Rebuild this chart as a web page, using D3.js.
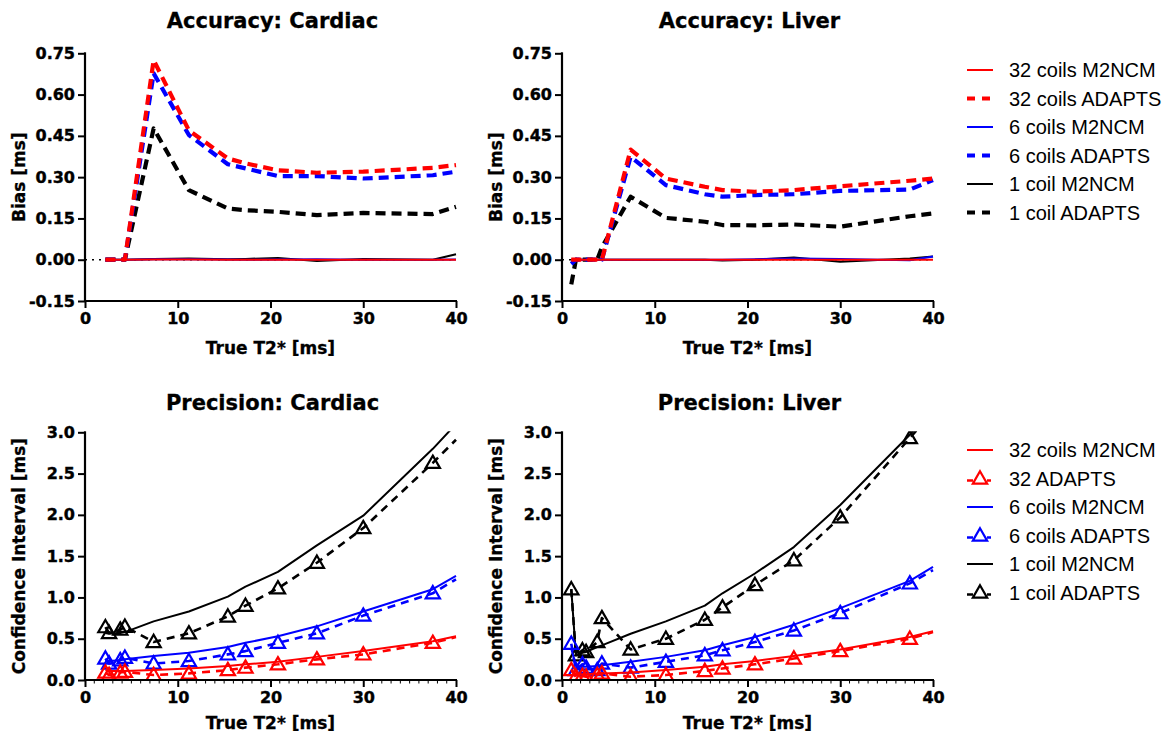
<!DOCTYPE html>
<html>
<head>
<meta charset="utf-8">
<script src="https://cdn.jsdelivr.net/npm/d3@7"></script>
<style>
  body { margin: 0; background: #fff; }
  svg { display: block; }
  .tick-label { font-family: "DejaVu Sans", sans-serif; font-weight: bold; font-size: 16px; stroke: #000; stroke-width: 0.4px; }
  .axis-title { font-family: "DejaVu Sans", sans-serif; font-weight: bold; font-size: 17px; stroke: #000; stroke-width: 0.3px; }
  .panel-title { font-family: "DejaVu Sans", sans-serif; font-weight: bold; font-size: 21px; stroke: #000; stroke-width: 0.3px; }
  .legend-text { font-family: "Liberation Sans", Arial, sans-serif; font-size: 20px; }
</style>
</head>
<body>
<svg id="chart" width="1162" height="735"></svg>
<script>
// T2* sample points
const xCardiac = [2.2, 2.6, 3.8, 4.3, 7.4, 11.2, 15.4, 17.3, 20.8, 25, 30, 37.5, 40];
const xLiver = [1.0, 1.5, 2.2, 2.6, 3.8, 4.3, 7.4, 11.2, 15.4, 17.3, 20.8, 25, 30, 37.5, 40];

// Bias, cardiac
const biasCardiac32M = [0, 0, 0, 0, 0.001, 0.001, 0, 0, 0, 0, 0, 0, 0];
const biasCardiac32A = [0, 0, 0, 0, 0.725, 0.47, 0.368, 0.35, 0.325, 0.316, 0.32, 0.334, 0.344];
const biasCardiac6M = [0, 0, 0, 0, 0.002, 0.002, 0.001, 0, 0.001, 0.002, 0, 0, 0.001];
const biasCardiac6A = [0, 0, 0, 0, 0.677, 0.453, 0.347, 0.332, 0.304, 0.304, 0.295, 0.307, 0.32];
const biasCardiac1M = [-0.003, 0, 0, 0, 0.003, 0.004, 0.002, 0.003, 0.006, -0.005, 0.003, 0, 0.02];
const biasCardiac1A = [0, 0, 0, 0, 0.477, 0.253, 0.186, 0.18, 0.174, 0.162, 0.17, 0.166, 0.192];

// Bias, liver
const biasLiver32M = [0, 0, 0, 0, 0, 0, 0, 0, 0, 0, 0, 0, 0, 0, 0];
const biasLiver32A = [0, 0, 0, 0, 0, 0, 0.40, 0.295, 0.265, 0.253, 0.247, 0.253, 0.267, 0.287, 0.295];
const biasLiver6M = [-0.015, 0, 0, 0, 0, 0, 0, 0, 0, 0, 0.002, 0.004, 0.003, -0.002, 0.012];
const biasLiver6A = [-0.015, 0, 0, 0, 0, 0, 0.374, 0.271, 0.238, 0.229, 0.235, 0.238, 0.25, 0.255, 0.289];
const biasLiver1M = [0, 0, 0, 0, 0, 0, 0, 0, 0, -0.003, 0, 0.008, -0.007, 0.004, 0.012];
const biasLiver1A = [-0.09, 0, 0, 0, 0, 0.045, 0.229, 0.152, 0.138, 0.126, 0.125, 0.128, 0.12, 0.158, 0.168];

// Confidence interval, cardiac
const ciCardiac32M = [0.12, 0.11, 0.11, 0.11, 0.12, 0.14, 0.17, 0.19, 0.22, 0.28, 0.35, 0.47, 0.53];
const ciCardiac32A = [0.09, 0.06, 0.09, 0.1, 0.06, 0.08, 0.12, 0.15, 0.19, 0.25, 0.31, 0.45, 0.52];
const ciCardiac6M = [0.24, 0.23, 0.24, 0.25, 0.29, 0.33, 0.40, 0.45, 0.53, 0.65, 0.83, 1.1, 1.26];
const ciCardiac6A = [0.26, 0.2, 0.24, 0.27, 0.2, 0.23, 0.31, 0.35, 0.45, 0.565, 0.78, 1.05, 1.22];
const ciCardiac1M = [0.57, 0.56, 0.57, 0.58, 0.71, 0.83, 1.01, 1.13, 1.31, 1.63, 1.99, 2.8, 3.1];
const ciCardiac1A = [0.64, 0.57, 0.61, 0.645, 0.46, 0.565, 0.77, 0.9, 1.11, 1.42, 1.84, 2.63, 2.91];

// Confidence interval, liver
const ciLiver32M = [0.13, 0.07, 0.07, 0.07, 0.08, 0.08, 0.09, 0.12, 0.16, 0.19, 0.23, 0.29, 0.37, 0.52, 0.59];
const ciLiver32A = [0.12, 0.04, 0.05, 0.04, 0.06, 0.08, 0.04, 0.06, 0.11, 0.14, 0.19, 0.26, 0.35, 0.5, 0.58];
const ciLiver6M = [0.38, 0.17, 0.16, 0.16, 0.17, 0.18, 0.22, 0.28, 0.36, 0.42, 0.52, 0.67, 0.87, 1.2, 1.37];
const ciLiver6A = [0.44, 0.12, 0.19, 0.15, 0.12, 0.2, 0.15, 0.22, 0.30, 0.36, 0.46, 0.60, 0.81, 1.17, 1.33];
const ciLiver1M = [1.1, 0.3, 0.33, 0.34, 0.4, 0.42, 0.56, 0.71, 0.90, 1.05, 1.29, 1.61, 2.12, 2.97, 3.3];
const ciLiver1A = [1.1, 0.3, 0.36, 0.34, 0.46, 0.75, 0.37, 0.50, 0.73, 0.88, 1.15, 1.45, 1.97, 2.93, 3.25];

// Ticks and labels
const xTicks = [0, 10, 20, 30, 40];
const biasTicks = [-0.15, 0, 0.15, 0.30, 0.45, 0.60, 0.75];
const ciTicks = [0, 0.5, 1.0, 1.5, 2.0, 2.5, 3.0];
const legendTop = ["32 coils M2NCM", "32 coils ADAPTS", "6 coils M2NCM", "6 coils ADAPTS", "1 coil M2NCM", "1 coil ADAPTS"];
const legendBottom = ["32 coils M2NCM", "32 ADAPTS", "6 coils M2NCM", "6 coils ADAPTS", "1 coil M2NCM", "1 coil ADAPTS"];
const seriesColors = ["#ff0000", "#ff0000", "#0000ff", "#0000ff", "#000000", "#000000"];

const svg = d3.select("#chart");
const tri = d3.symbol().type(d3.symbolTriangle).size(88);

function drawPanel(cfg) {
    const x = d3.scaleLinear().domain([0, 40]).range([cfg.left, cfg.right]);
    const y = d3.scaleLinear().domain(cfg.yDomain).range([cfg.bottom, cfg.top]);
    const g = svg.append("g");

    // clip so lines stop at the axes
    g.append("defs").append("clipPath")
        .attr("id", "clip-" + cfg.id)
        .append("rect")
        .attr("x", cfg.left).attr("y", cfg.top - 1)
        .attr("width", cfg.right - cfg.left + 2).attr("height", cfg.bottom - cfg.top + 1);

    const body = g.append("g").attr("clip-path", `url(#clip-${cfg.id})`);

    if (cfg.zeroLine) {
        body.append("line")
            .attr("x1", x(0)).attr("x2", x(40))
            .attr("y1", y(0)).attr("y2", y(0))
            .attr("stroke", "#000").attr("stroke-width", 1.6)
            .attr("stroke-dasharray", "2,5");
    }

    const line = d3.line().x(d => x(d[0])).y(d => y(d[1]));

    // black drawn first, red on top
    cfg.series.slice().reverse().forEach(s => {
        const pts = cfg.xs.map((v, i) => [v, s.vals[i]]);
        body.append("path")
            .datum(pts)
            .attr("d", line)
            .attr("fill", "none")
            .attr("stroke", s.color)
            .attr("stroke-width", s.dashed ? cfg.dashWidth : cfg.solidWidth)
            .attr("stroke-dasharray", s.dashed ? cfg.dashArray : null)
            .attr("stroke-linejoin", "round");
        if (s.markers) {
            body.selectAll(null)
                .data(pts.slice(0, -1))
                .enter().append("path")
                .attr("d", tri)
                .attr("transform", d => `translate(${x(d[0])},${y(d[1]) + 1})`)
                .attr("fill", "none")
                .attr("stroke", s.color)
                .attr("stroke-width", 2.2);
        }
    });

    // axes
    const xAxis = g.append("g")
        .attr("transform", `translate(0,${cfg.bottom})`)
        .call(d3.axisBottom(x).tickValues(xTicks).tickSize(7).tickPadding(5).tickFormat(d3.format("d")));
    const yAxis = g.append("g")
        .attr("transform", `translate(${cfg.left},0)`)
        .call(d3.axisLeft(y).tickValues(cfg.yTicks).tickSize(7).tickPadding(3)
            .tickFormat(d => d3.format(cfg.fmt)(d).replace("\u2212", "-")));

    [xAxis, yAxis].forEach(a => {
        a.select(".domain").attr("stroke", "#000").attr("stroke-width", 2.2);
        a.selectAll(".tick line").attr("stroke", "#000").attr("stroke-width", 2);
        a.selectAll(".tick text").attr("class", "tick-label").attr("fill", "#000");
    });
    xAxis.select(".domain").attr("d", `M${cfg.left - 1},0H${cfg.right + 1}`);
    yAxis.select(".domain").attr("d", `M0,${cfg.top - 1}V${cfg.bottom + 1}`);

    if (cfg.minor) {
        g.append("g")
            .selectAll("line")
            .data(d3.range(1, 40).filter(v => v % 10 !== 0))
            .enter().append("line")
            .attr("x1", d => x(d)).attr("x2", d => x(d))
            .attr("y1", cfg.bottom).attr("y2", cfg.bottom + 3.5)
            .attr("stroke", "#000").attr("stroke-width", 1);
    }

    // titles
    g.append("text")
        .attr("class", "panel-title")
        .attr("x", (cfg.left + cfg.right) / 2 + 2)
        .attr("y", cfg.titleY)
        .attr("text-anchor", "middle")
        .text(cfg.title);

    g.append("text")
        .attr("class", "axis-title")
        .attr("x", (cfg.left + cfg.right) / 2)
        .attr("y", cfg.bottom + cfg.xTitleOff)
        .attr("text-anchor", "middle")
        .text("True T2* [ms]");

    g.append("text")
        .attr("class", "axis-title")
        .attr("transform", `translate(${cfg.ylabelX},${(cfg.top + cfg.bottom) / 2}) rotate(-90)`)
        .attr("text-anchor", "middle")
        .text(cfg.ylabel);
}

function drawLegend(labels, top, withMarkers) {
    const g = svg.append("g");
    labels.forEach((lab, i) => {
        const yy = top + i * 28.5;
        const dashed = i % 2 === 1;
        const row = g.append("g");
        if (!withMarkers || !dashed) {
            row.append("line")
                .attr("x1", 967).attr("x2", 993)
                .attr("y1", yy).attr("y2", yy)
                .attr("stroke", seriesColors[i])
                .attr("stroke-width", dashed ? 4 : 2)
                .attr("stroke-dasharray", dashed ? "8,7" : null);
        } else {
            row.append("line")
                .attr("x1", 967).attr("x2", 973)
                .attr("y1", yy + 2).attr("y2", yy + 2)
                .attr("stroke", seriesColors[i]).attr("stroke-width", 2.5);
            row.append("line")
                .attr("x1", 987).attr("x2", 991)
                .attr("y1", yy + 2).attr("y2", yy + 2)
                .attr("stroke", seriesColors[i]).attr("stroke-width", 2.5);
            row.append("path")
                .attr("d", tri)
                .attr("transform", `translate(980,${yy + 1})`)
                .attr("fill", "none")
                .attr("stroke", seriesColors[i])
                .attr("stroke-width", 2.2);
        }
        row.append("text")
            .attr("class", "legend-text")
            .attr("x", 1009)
            .attr("y", yy + 7)
            .text(lab);
    });
}

const biasSeries = (a) => a.map((vals, i) => ({ vals, color: seriesColors[i], dashed: i % 2 === 1, markers: false }));
const ciSeries = (a) => a.map((vals, i) => ({ vals, color: seriesColors[i], dashed: i % 2 === 1, markers: i % 2 === 1 }));

const topCommon = { top: 53.3, bottom: 301, yDomain: [-0.15, 0.75], yTicks: biasTicks, fmt: ".2f",
    ylabel: "Bias [ms]", titleY: 28, xTitleOff: 53, zeroLine: true, minor: false,
    dashWidth: 4.2, solidWidth: 2, dashArray: "10,6" };
const botCommon = { top: 432.3, bottom: 680, yDomain: [0, 3], yTicks: ciTicks, fmt: ".1f",
    ylabel: "Confidence Interval [ms]", titleY: 410, xTitleOff: 49, zeroLine: false, minor: true,
    dashWidth: 2.6, solidWidth: 2, dashArray: "8,6" };

drawPanel(Object.assign({}, topCommon, { id: "tl", left: 85, right: 456, ylabelX: 25, title: "Accuracy: Cardiac", xs: xCardiac,
    series: biasSeries([biasCardiac32M, biasCardiac32A, biasCardiac6M, biasCardiac6A, biasCardiac1M, biasCardiac1A]) }));
drawPanel(Object.assign({}, topCommon, { id: "tr", left: 562, right: 933, ylabelX: 502, title: "Accuracy: Liver", xs: xLiver,
    series: biasSeries([biasLiver32M, biasLiver32A, biasLiver6M, biasLiver6A, biasLiver1M, biasLiver1A]) }));
drawPanel(Object.assign({}, botCommon, { id: "bl", left: 85, right: 456, ylabelX: 25, title: "Precision: Cardiac", xs: xCardiac,
    series: ciSeries([ciCardiac32M, ciCardiac32A, ciCardiac6M, ciCardiac6A, ciCardiac1M, ciCardiac1A]) }));
drawPanel(Object.assign({}, botCommon, { id: "br", left: 562, right: 933, ylabelX: 502, title: "Precision: Liver", xs: xLiver,
    series: ciSeries([ciLiver32M, ciLiver32A, ciLiver6M, ciLiver6A, ciLiver1M, ciLiver1A]) }));

drawLegend(legendTop, 70, false);
drawLegend(legendBottom, 450, true);
</script>
</body>
</html>
